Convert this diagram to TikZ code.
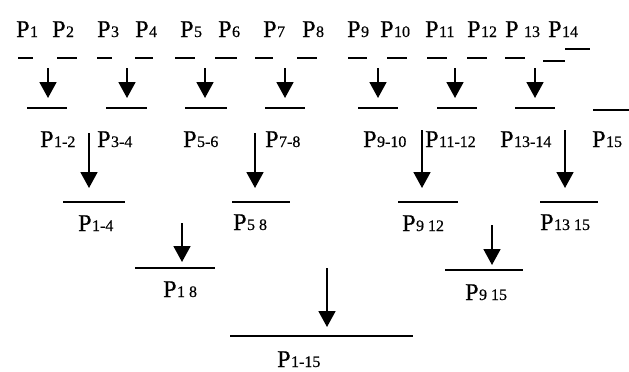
\documentclass[tikz,border=0pt]{standalone}
\usepackage{fontspec}
\setmainfont{Liberation Serif}[UprightFeatures={FakeBold=0.6}]
\usetikzlibrary{arrows.meta}
\newcommand\Pn[1]{P\kern0.5pt{\fontsize{16}{16}\selectfont #1}}
\tikzset{
  lab/.style={anchor=base west, inner sep=0pt, font=\fontsize{24}{26}\selectfont},
  bar/.style={line width=2pt},
  arr/.style={line width=1.8pt, -{Triangle[length=16pt,width=17pt]}}
}
\begin{document}
\begin{tikzpicture}[x=1pt,y=-1pt]
\useasboundingbox (0,0) rectangle (629,372);
% row 1 labels
\node[lab] (p1) at (16,37) {\Pn{1}};
\node[lab] (p2) at (52,37) {\Pn{2}};
\node[lab] (p3) at (97,37) {\Pn{3}};
\node[lab] (p4) at (135,37) {\Pn{4}};
\node[lab] (p5) at (180,37) {\Pn{5}};
\node[lab] (p6) at (218,37) {\Pn{6}};
\node[lab] (p7) at (263,37) {\Pn{7}};
\node[lab] (p8) at (302,37) {\Pn{8}};
\node[lab] (p9) at (347,37) {\Pn{9}};
\node[lab] (p10) at (380,37) {\Pn{10}};
\node[lab] (p11) at (425,37) {\Pn{11}};
\node[lab] (p12) at (467,37) {\Pn{12}};
\node[lab] (p13) at (505,37) {\Pn{\hspace{5pt}13}};
\node[lab] (p14) at (548,37) {\Pn{14}};
% dashes
\foreach \a/\b in {18/33,57/77,97/112,135/153,175/195,215/237,255/273,297/317,348/367,387/407,427/447,467/487,505/525}
  \draw[bar] (\a,58) -- (\b,58);
\draw[bar] (543,61) -- (565,61);
\draw[bar] (565,49) -- (590,49);
% row 1 arrows and bars
\foreach \n/\x in {a/48,b/127,c/205,d/285,e/378,f/455,g/535}{
  \coordinate (s1\n) at (\x,68);
  \coordinate (e1\n) at (\x,98);
  \draw[arr] (s1\n) -- (e1\n);
}
\foreach \a/\b in {27/67,106/147,185/227,265/305,358/398,437/477,515/555}
  \draw[bar] (\a,108) -- (\b,108);
\draw[bar] (593,110) -- (629,110);
% row 2 labels
\node[lab] (q12) at (40,147) {\Pn{1-2}};
\node[lab] (q34) at (97,147) {\Pn{3-4}};
\node[lab] (q56) at (183,147) {\Pn{5-6}};
\node[lab] (q78) at (265,147) {\Pn{7-8}};
\node[lab] (q910) at (363,147) {\Pn{9-10}};
\node[lab] (q1112) at (425,147) {\Pn{11-12}};
\node[lab] (q1314) at (500,147) {\Pn{13-14}};
\node[lab] (q15) at (592,147) {\Pn{15}};
% row 2 arrows
\foreach \n/\x/\y in {a/89/133,b/255/133,c/422/130,d/565/130}{
  \coordinate (s2\n) at (\x,\y);
  \coordinate (e2\n) at (\x,188);
  \draw[arr] (s2\n) -- (e2\n);
}
\foreach \a/\b in {63/125,232/290,398/458,540/598}
  \draw[bar] (\a,202) -- (\b,202);
% row 3 labels
\node[lab] (r14) at (78,231) {\Pn{1-4}};
\node[lab] (r58) at (233,230) {\Pn{5\hspace{4pt}8}};
\node[lab] (r912) at (402,231) {\Pn{9\hspace{4pt}12}};
\node[lab] (r1315) at (540,230) {\Pn{13\hspace{4pt}15}};
% row 3 arrows
\coordinate (s3a) at (182,223); \coordinate (e3a) at (182,262);
\coordinate (s3b) at (492,225); \coordinate (e3b) at (492,265);
\draw[arr] (s3a) -- (e3a);
\draw[arr] (s3b) -- (e3b);
\draw[bar] (135,268) -- (215,268);
\draw[bar] (445,270) -- (523,270);
% row 4 labels
\node[lab] (t18) at (163,297) {\Pn{1\hspace{4pt}8}};
\node[lab] (t915) at (465,300) {\Pn{9\hspace{4pt}15}};
% row 4 arrow
\coordinate (s4) at (327,268); \coordinate (e4) at (327,327);
\draw[arr] (s4) -- (e4);
\draw[bar] (230,336) -- (413,336);
% final
\node[lab] (u115) at (277,367) {\Pn{1-15}};
\end{tikzpicture}
\end{document}
